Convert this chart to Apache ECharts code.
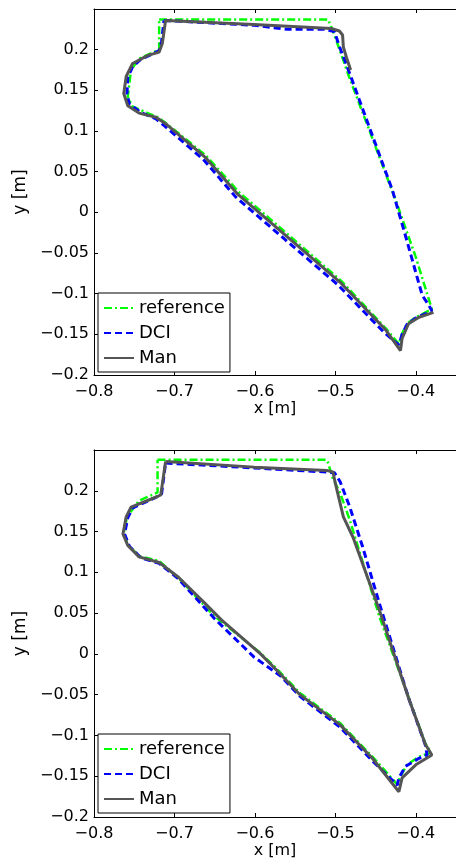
<!DOCTYPE html>
<html>
<head>
<meta charset="utf-8">
<title>trajectories</title>
<script src="https://cdn.jsdelivr.net/npm/echarts@6.0.0/dist/echarts.min.js"></script>
<style>
html, body { margin: 0; padding: 0; background: #fff; }
#chart { width: 456px; height: 862px; }
</style>
</head>
<body>
<div id="chart"></div>
<script>
// axis ranges / ticks
const xMin = -0.8, xMax = -0.35, xStep = 0.1;
const yMin = -0.2, yMax = 0.25, yStep = 0.05;
const legendNames = ["reference", "DCI", "Man"];

// upper plot, [x, y] in metres
const refTop = [
  [-0.719, 0.237], [-0.509, 0.237], [-0.505, 0.228], [-0.499, 0.212], [-0.483, 0.167],
  [-0.425, 0.015], [-0.400, -0.055], [-0.380, -0.119], [-0.400, -0.129], [-0.411, -0.137],
  [-0.417, -0.149], [-0.421, -0.162], [-0.437, -0.143], [-0.492, -0.085], [-0.558, -0.028],
  [-0.620, 0.025], [-0.661, 0.070], [-0.711, 0.110], [-0.721, 0.117], [-0.731, 0.121],
  [-0.752, 0.130], [-0.758, 0.142], [-0.754, 0.175], [-0.744, 0.189], [-0.719, 0.200],
  [-0.719, 0.237]
];
const dciTop = [
  [-0.713, 0.236], [-0.601, 0.230], [-0.560, 0.225], [-0.511, 0.225], [-0.501, 0.222],
  [-0.495, 0.204], [-0.486, 0.181], [-0.429, 0.027], [-0.411, -0.035], [-0.396, -0.088],
  [-0.392, -0.102], [-0.384, -0.114], [-0.380, -0.121], [-0.400, -0.130], [-0.411, -0.138],
  [-0.417, -0.150], [-0.421, -0.163], [-0.439, -0.148], [-0.497, -0.089], [-0.563, -0.033],
  [-0.624, 0.019], [-0.664, 0.065], [-0.712, 0.106], [-0.723, 0.115], [-0.742, 0.123],
  [-0.756, 0.133], [-0.759, 0.146], [-0.758, 0.166], [-0.752, 0.179], [-0.742, 0.188],
  [-0.729, 0.194], [-0.719, 0.199], [-0.716, 0.210], [-0.713, 0.236]
];
const manTop = [
  [-0.481, 0.175], [-0.486, 0.190], [-0.490, 0.203], [-0.491, 0.218], [-0.495, 0.223],
  [-0.505, 0.226], [-0.601, 0.231], [-0.711, 0.236], [-0.715, 0.208], [-0.719, 0.197],
  [-0.733, 0.193], [-0.752, 0.183], [-0.760, 0.167], [-0.763, 0.146], [-0.758, 0.131],
  [-0.744, 0.122], [-0.723, 0.117], [-0.711, 0.109], [-0.662, 0.068], [-0.621, 0.022],
  [-0.560, -0.030], [-0.494, -0.086], [-0.437, -0.145], [-0.419, -0.170], [-0.417, -0.155],
  [-0.409, -0.137], [-0.396, -0.129], [-0.378, -0.123]
];

// lower plot
const refBot = [
  [-0.721, 0.238], [-0.511, 0.238], [-0.509, 0.234], [-0.503, 0.215], [-0.494, 0.197],
  [-0.482, 0.164], [-0.445, 0.045], [-0.409, -0.053], [-0.388, -0.110], [-0.381, -0.121],
  [-0.396, -0.126], [-0.411, -0.136], [-0.419, -0.150], [-0.423, -0.160], [-0.454, -0.126],
  [-0.494, -0.085], [-0.544, -0.048], [-0.572, -0.019], [-0.593, 0.001], [-0.650, 0.046],
  [-0.695, 0.093], [-0.719, 0.114], [-0.744, 0.120], [-0.758, 0.134], [-0.763, 0.148],
  [-0.759, 0.168], [-0.744, 0.188], [-0.721, 0.198], [-0.721, 0.238]
];
const dciBot = [
  [-0.711, 0.234], [-0.601, 0.228], [-0.511, 0.223], [-0.501, 0.222], [-0.494, 0.211],
  [-0.482, 0.180], [-0.466, 0.131], [-0.445, 0.061], [-0.409, -0.054], [-0.388, -0.112],
  [-0.386, -0.124], [-0.396, -0.128], [-0.413, -0.138], [-0.421, -0.152], [-0.423, -0.161],
  [-0.454, -0.131], [-0.494, -0.090], [-0.544, -0.052], [-0.568, -0.027], [-0.601, -0.004],
  [-0.650, 0.043], [-0.695, 0.092], [-0.719, 0.111], [-0.742, 0.118], [-0.756, 0.132],
  [-0.762, 0.147], [-0.758, 0.167], [-0.752, 0.179], [-0.723, 0.192], [-0.716, 0.196],
  [-0.711, 0.234]
];
const manBot = [
  [-0.711, 0.236], [-0.601, 0.229], [-0.511, 0.225], [-0.503, 0.223], [-0.499, 0.205],
  [-0.490, 0.168], [-0.478, 0.143], [-0.445, 0.053], [-0.409, -0.054], [-0.388, -0.111],
  [-0.380, -0.124], [-0.380, -0.126], [-0.400, -0.136], [-0.417, -0.152], [-0.421, -0.169],
  [-0.454, -0.128], [-0.494, -0.087], [-0.544, -0.050], [-0.572, -0.021], [-0.593, 0.000],
  [-0.642, 0.042], [-0.662, 0.062], [-0.695, 0.094], [-0.719, 0.112], [-0.744, 0.119],
  [-0.758, 0.133], [-0.764, 0.147], [-0.760, 0.168], [-0.754, 0.180], [-0.721, 0.193],
  [-0.717, 0.195], [-0.711, 0.236]
];

const font = "DejaVu Sans";
const black = "#000";

// matlab style tick text, with a real minus sign
function fmt(v) {
  return String(+v.toFixed(2)).replace("-", "\u2212");
}

function xAxes(g) {
  return [
    {
      gridIndex: g, type: "value", position: "bottom", min: xMin, max: xMax, interval: xStep,
      axisLine: { onZero: false, lineStyle: { color: black, width: 1 } },
      axisTick: { inside: true, length: 4, lineStyle: { color: black } },
      axisLabel: { formatter: fmt, color: black, fontSize: 16, fontFamily: font, margin: 9, showMaxLabel: false },
      splitLine: { show: false },
      name: "x [m]", nameLocation: "middle", nameGap: 25,
      nameTextStyle: { color: black, fontSize: 16, fontFamily: font }
    },
    {
      gridIndex: g, type: "value", position: "top", min: xMin, max: xMax, interval: xStep,
      axisLine: { onZero: false, lineStyle: { color: black, width: 1 } },
      axisTick: { inside: true, length: 4, lineStyle: { color: black } },
      axisLabel: { show: false },
      splitLine: { show: false }
    }
  ];
}

function yAxes(g) {
  return [
    {
      gridIndex: g, type: "value", position: "left", min: yMin, max: yMax, interval: yStep,
      axisLine: { onZero: false, lineStyle: { color: black, width: 1 } },
      axisTick: { inside: true, length: 4, lineStyle: { color: black } },
      axisLabel: { formatter: fmt, color: black, fontSize: 16, fontFamily: font, margin: 5, showMaxLabel: false },
      splitLine: { show: false },
      name: "y [m]", nameLocation: "middle", nameGap: 45,
      nameTextStyle: { color: black, fontSize: 17, fontFamily: font }
    },
    {
      // right side of the box falls outside the picture
      gridIndex: g, type: "value", position: "right", min: yMin, max: yMax, interval: yStep,
      axisLine: { show: false },
      axisTick: { show: false },
      axisLabel: { show: false },
      splitLine: { show: false }
    }
  ];
}

const styles = {
  reference: { color: "#00ff00", width: 2.5, type: [8, 3, 2, 3] },
  DCI: { color: "#0000ff", width: 3, type: [7, 4] },
  Man: { color: "#555555", width: 3, type: "solid" }
};

function line(name, data, g, z) {
  return {
    name: name, type: "line", xAxisIndex: g * 2, yAxisIndex: g * 2, data: data,
    symbol: "none", showSymbol: false, smooth: false, z: z,
    lineStyle: styles[name], itemStyle: { color: styles[name].color },
    emphasis: { disabled: true }
  };
}

function legend(top) {
  return {
    data: legendNames, orient: "vertical", left: 98, top: top,
    itemWidth: 30, itemHeight: 14, itemGap: 7, padding: [6, 5, 5, 5],
    borderColor: black, borderWidth: 1, backgroundColor: "#fff",
    // hide the marker dot, keep only the line sample
    itemStyle: { opacity: 0, borderWidth: 0 },
    textStyle: { fontSize: 18, fontFamily: font, color: black },
    selectedMode: false
  };
}

let myChart = echarts.init(document.getElementById("chart"));
myChart.setOption({
  animation: false,
  backgroundColor: "#fff",
  grid: [
    { left: 94, top: 9, width: 367, height: 366 },
    { left: 94, top: 450, width: 367, height: 367 }
  ],
  xAxis: xAxes(0).concat(xAxes(1)),
  yAxis: yAxes(0).concat(yAxes(1)),
  legend: [legend(293), legend(734)],
  series: [
    line("reference", refTop, 0, 2),
    line("DCI", dciTop, 0, 3),
    line("Man", manTop, 0, 4),
    line("reference", refBot, 1, 2),
    line("DCI", dciBot, 1, 3),
    line("Man", manBot, 1, 4)
  ]
});
</script>
</body>
</html>
